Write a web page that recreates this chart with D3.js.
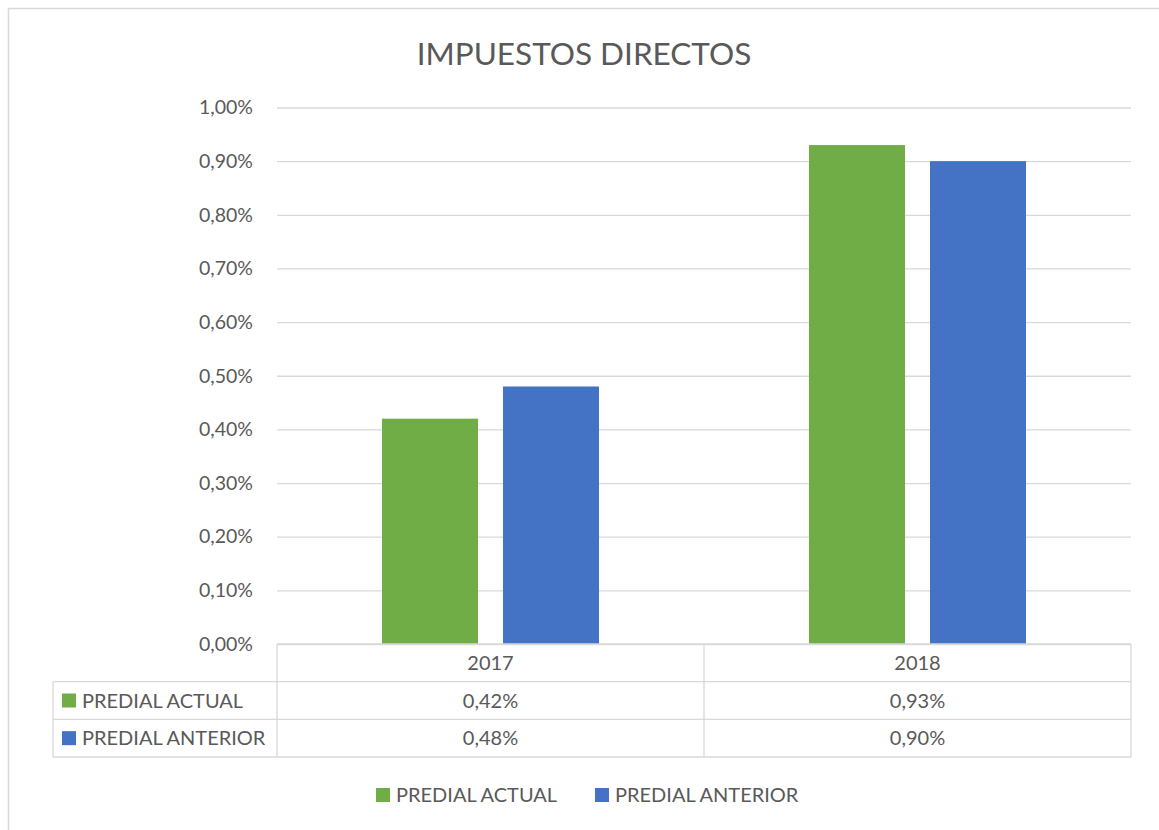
<!DOCTYPE html>
<html><head><meta charset="utf-8">
<script src="https://cdn.jsdelivr.net/npm/d3@7"></script>
<style>body{margin:0;background:#fff}svg{display:block}text{font-family:Lato,"Open Sans",sans-serif;fill:#595959}</style>
</head><body><svg id="c" width="1159" height="830"></svg>
<script>
const title = "IMPUESTOS DIRECTOS";
const categories = ["2017", "2018"];
const seriesNames = ["PREDIAL ACTUAL", "PREDIAL ANTERIOR"];
const predialActual = [0.42, 0.93];
const predialAnterior = [0.48, 0.90];
const yTicks = [0, 0.1, 0.2, 0.3, 0.4, 0.5, 0.6, 0.7, 0.8, 0.9, 1.0];
const colors = ["#70AD47", "#4472C4"];

const seriesValues = [predialActual, predialAnterior];
const fmt = v => v.toFixed(2).replace(".", ",") + "%";

const svg = d3.select("#c");
const grid = "#D9D9D9";
svg.append("rect").attr("x", 8.5).attr("y", 8.5).attr("width", 1170).attr("height", 840)
  .attr("fill", "#fff").attr("stroke", grid).attr("stroke-width", 1.5);

svg.append("text").attr("x", 584).attr("y", 65).attr("text-anchor", "middle")
  .style("font-size", "31.5px").text(title);

const L = 277, R = 1131, T = 107.5, B = 644;
const y = d3.scaleLinear().domain([0, 1]).range([B, T]);
const x0 = d3.scaleBand().domain(categories).range([L, R]).paddingInner(0).paddingOuter(0);
const bw = x0.bandwidth();
const x1 = d3.scaleBand().domain(seriesNames).range([bw * 0.2459, bw * 0.7541]).paddingInner(0.2066).paddingOuter(0);

const yAxis = d3.axisLeft(y).tickValues(yTicks).tickSize(-(R - L)).tickFormat(fmt).tickPadding(24);
const ga = svg.append("g").attr("transform", `translate(${L},0)`).call(yAxis);
ga.select(".domain").remove();
ga.selectAll(".tick line").attr("stroke", grid).attr("stroke-width", 1.3);
ga.selectAll(".tick text").style("font-size", "19.5px").style("font-family", "Lato").attr("fill", "#595959");

const groups = svg.append("g").selectAll("g").data(categories).join("g")
  .attr("transform", d => `translate(${x0(d)},0)`);
groups.selectAll("rect").data((d, i) => seriesNames.map((s, k) => ({s, k, v: seriesValues[k][i]})))
  .join("rect")
  .attr("x", d => x1(d.s)).attr("width", x1.bandwidth())
  .attr("y", d => y(d.v)).attr("height", d => B - y(d.v))
  .attr("fill", d => colors[d.k]);

const rowH = (757 - 644) / 3;
const tl = 53;
const tg = svg.append("g").attr("stroke", grid).attr("stroke-width", 1.3);
tg.append("line").attr("x1", L).attr("x2", R).attr("y1", B).attr("y2", B);
[1, 2, 3].forEach(r => tg.append("line").attr("x1", tl).attr("x2", R).attr("y1", B + r * rowH).attr("y2", B + r * rowH));
tg.append("line").attr("x1", tl).attr("x2", tl).attr("y1", B + rowH).attr("y2", B + 3 * rowH);
[L, ...categories.map(c => x0(c) + bw)].forEach(xx =>
  tg.append("line").attr("x1", xx).attr("x2", xx).attr("y1", B).attr("y2", B + 3 * rowH));

const fs = "20px";
categories.forEach((c, i) => {
  svg.append("text").attr("x", x0(c) + bw / 2).attr("y", B + rowH * 0.5).attr("dy", "0.35em")
    .attr("text-anchor", "middle").style("font-size", fs).text(c);
  seriesValues.forEach((vals, k) => {
    svg.append("text").attr("x", x0(c) + bw / 2).attr("y", B + rowH * (k + 1.5)).attr("dy", "0.35em")
      .attr("text-anchor", "middle").style("font-size", fs).text(fmt(vals[i]));
  });
});
seriesNames.forEach((s, k) => {
  const cy = B + rowH * (k + 1.5);
  svg.append("rect").attr("x", 62).attr("y", cy - 7).attr("width", 14).attr("height", 14).attr("fill", colors[k]);
  svg.append("text").attr("x", 82).attr("y", cy).attr("dy", "0.35em").style("font-size", fs).text(s);
});

const legX = [376, 595];
seriesNames.forEach((s, k) => {
  svg.append("rect").attr("x", legX[k]).attr("y", 788).attr("width", 14).attr("height", 14).attr("fill", colors[k]);
  svg.append("text").attr("x", legX[k] + 20).attr("y", 795).attr("dy", "0.35em").style("font-size", fs).text(s);
});
</script></body></html>
